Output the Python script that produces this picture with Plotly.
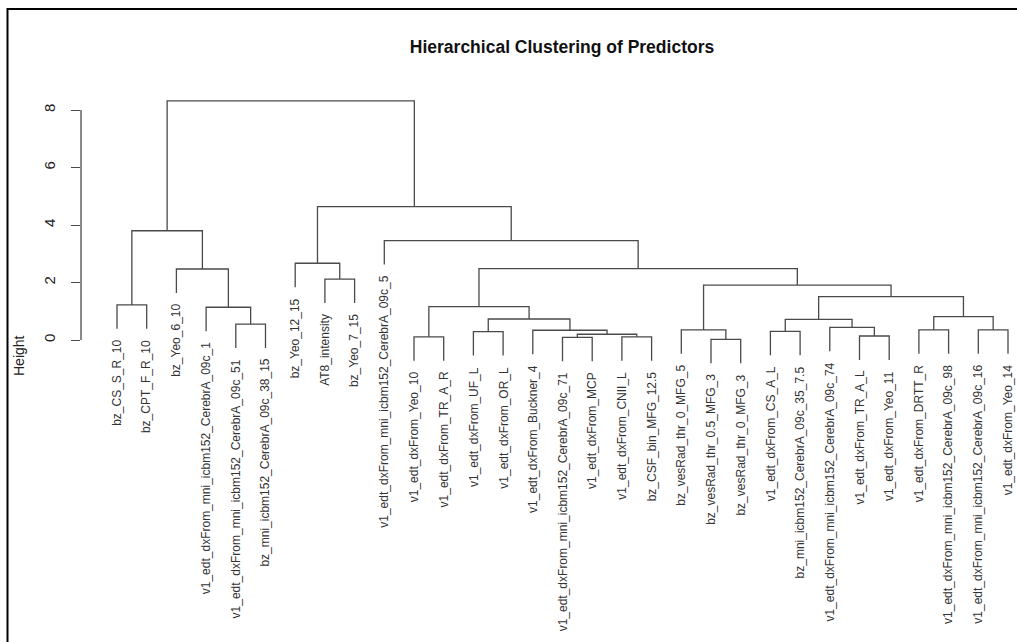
import plotly.graph_objects as go

# Leaf labels in plotted (dendrogram) order
labels = [
    "bz_CS_S_R_10", "bz_CPT_F_R_10", "bz_Yeo_6_10",
    "v1_edt_dxFrom_mni_icbm152_CerebrA_09c_1",
    "v1_edt_dxFrom_mni_icbm152_CerebrA_09c_51",
    "bz_mni_icbm152_CerebrA_09c_38_15",
    "bz_Yeo_12_15", "AT8_intensity", "bz_Yeo_7_15",
    "v1_edt_dxFrom_mni_icbm152_CerebrA_09c_5",
    "v1_edt_dxFrom_Yeo_10", "v1_edt_dxFrom_TR_A_R",
    "v1_edt_dxFrom_UF_L", "v1_edt_dxFrom_OR_L",
    "v1_edt_dxFrom_Buckner_4",
    "v1_edt_dxFrom_mni_icbm152_CerebrA_09c_71",
    "v1_edt_dxFrom_MCP", "v1_edt_dxFrom_CNII_L",
    "bz_CSF_bin_MFG_12.5",
    "bz_vesRad_thr_0_MFG_5", "bz_vesRad_thr_0.5_MFG_3", "bz_vesRad_thr_0_MFG_3",
    "v1_edt_dxFrom_CS_A_L", "bz_mni_icbm152_CerebrA_09c_35_7.5",
    "v1_edt_dxFrom_mni_icbm152_CerebrA_09c_74",
    "v1_edt_dxFrom_TR_A_L", "v1_edt_dxFrom_Yeo_11",
    "v1_edt_dxFrom_DRTT_R",
    "v1_edt_dxFrom_mni_icbm152_CerebrA_09c_98",
    "v1_edt_dxFrom_mni_icbm152_CerebrA_09c_16",
    "v1_edt_dxFrom_Yeo_14",
]

# R-style merge table: negative = leaf (1-based position), positive = earlier merge
merge_left = [-21, -16, -11, -18, -26, 2, -13, -23, -15, -20, -28, -30, -25, -5, 8,
              7, 11, -4, 3, -1, 15, 10, -8, -3, 19, -7, -10, 20, 26, 28]
merge_right = [-22, -17, -12, -19, -27, 4, -14, -24, 6, 1, -29, -31, 5, -6, 13,
               9, 12, 14, 16, -2, 17, 21, -9, 18, 22, 23, 25, 24, 27, 29]
merge_height = [0.02, 0.09, 0.11, 0.11, 0.14, 0.20, 0.29, 0.30, 0.34, 0.35, 0.35, 0.35,
                0.44, 0.55, 0.72, 0.73, 0.81, 1.14, 1.16, 1.22, 1.51, 1.91, 2.12,
                2.47, 2.48, 2.67, 3.46, 3.80, 4.64, 8.32]

y_ticks = [0, 2, 4, 6, 8]
title_text = "Hierarchical Clustering of Predictors"
ylab_text = "Height"

hang = 0.1 * max(merge_height)

# compute node positions
node_x = {}
xs, ys = [], []
leaf_bottom = {}
for k, (a, b, h) in enumerate(zip(merge_left, merge_right, merge_height), start=1):
    pts = []
    for c in (a, b):
        if c < 0:
            cx = -c
            cy = h - hang
            leaf_bottom[-c] = cy
        else:
            cx = node_x[c]
            cy = merge_height[c - 1]
        pts.append((cx, cy))
    (xl, yl), (xr, yr) = pts
    node_x[k] = (xl + xr) / 2.0
    xs += [xl, xl, xr, xr, None]
    ys += [yl, h, h, yr, None]

line_color = "#4a4a4a"
fig = go.Figure()
fig.add_trace(go.Scatter(x=xs, y=ys, mode="lines",
                         line=dict(color=line_color, width=1.3),
                         hoverinfo="skip", showlegend=False))

W, H = 1017, 642
L = 81
font_family = "Liberation Sans, Arial, sans-serif"

annotations = []
for i, lab in enumerate(labels, start=1):
    annotations.append(dict(
        x=i, y=leaf_bottom[i], xref="x", yref="y", text=lab, showarrow=False,
        textangle=-90, xanchor="center", yanchor="top", yshift=-9,
        font=dict(family=font_family, size=12, color="#333333")))

annotations.append(dict(
    x=(19 - L) / (W - L), y=1 - 356 / H, xref="paper", yref="paper",
    text=ylab_text, showarrow=False, textangle=-90,
    xanchor="center", yanchor="middle",
    font=dict(family=font_family, size=14, color="#222222")))

shapes = [
    # y axis line from first to last tick, as in R
    dict(type="line", xref="paper", yref="y", x0=0, x1=0, y0=y_ticks[0], y1=y_ticks[-1],
         line=dict(color=line_color, width=1.3)),
    # outer frame
    dict(type="rect", xref="paper", yref="paper",
         x0=(7.5 - L) / (W - L), x1=1.05, y0=-0.05, y1=1 - 9 / H,
         line=dict(color="black", width=2), fillcolor="rgba(0,0,0,0)", layer="above"),
]

fig.update_layout(
    width=W, height=H,
    margin=dict(l=L, r=0, t=0, b=0),
    paper_bgcolor="white", plot_bgcolor="white",
    title=dict(text="<b>" + title_text + "</b>", x=562 / W, y=1 - 47 / H,
               xanchor="center", yanchor="middle",
               font=dict(family=font_family, size=17.5, color="#111111")),
    xaxis=dict(range=[1 - (117 - L) / 29.7, 31 + (W - 1008) / 29.7],
               visible=False, showgrid=False, zeroline=False),
    yaxis=dict(range=[(340 - H) / 28.75, 340 / 28.75],
               tickvals=y_ticks, ticktext=[str(v) for v in y_ticks],
               ticks="outside", ticklen=9, tickwidth=1.3, tickcolor=line_color,
               tickangle=-90, ticklabelstandoff=10,
               tickfont=dict(family=font_family, size=15, color="#222222"),
               showgrid=False, zeroline=False, showline=False),
    annotations=annotations,
    shapes=shapes,
)

fig.write_html("out.html")
